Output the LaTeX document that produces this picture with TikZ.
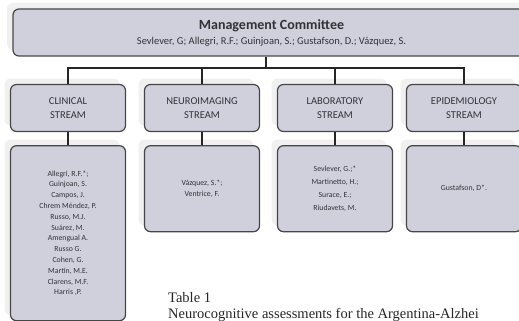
\documentclass[tikz,border=0pt]{standalone}
\usepackage{fontspec}
\setmainfont{Carlito}
\newfontfamily\capfont{Liberation Serif}
\usepackage{tikz}
\usetikzlibrary{positioning,shadows,calc}

\definecolor{boxfill}{RGB}{208,208,221}
\definecolor{boxline}{RGB}{70,70,72}
\definecolor{boxtext}{RGB}{50,50,54}

\begin{document}
\begin{tikzpicture}[x=1pt,y=-1pt,
    box/.style={draw=boxline, fill=boxfill, line width=1.2pt, rounded corners=6pt,
      align=center, text=boxtext, inner sep=2pt,
      drop shadow={shadow xshift=-6pt, shadow yshift=6pt, fill=black!6, opacity=1}},
    mgmt/.style={box, minimum width=517pt, minimum height=47pt},
    stream/.style={box, minimum width=115pt, minimum height=47pt, font=\fontsize{10.5}{14}\selectfont},
    members/.style={box, minimum width=115pt, anchor=north, font=\fontsize{7.8}{10.8}\selectfont},
    link/.style={draw=black!85, line width=1.6pt}]
  \path[use as bounding box, clip] (0,0) rectangle (519,321);

  % committee
  \node[mgmt] (mgmt) at (271.5,32.5)
    {{\fontsize{14}{18}\selectfont\bfseries Management Committee}\\[3pt]
     {\fontsize{10.5}{13}\selectfont Sevlever, G; Allegri, R.F.; Guinjoan, S.; Gustafson, D.; V\'azquez, S.}};

  % streams
  \node[stream] (clin) at (68,108)  {CLINICAL\\STREAM};
  \node[stream] (neuro) at (202,108) {NEUROIMAGING\\STREAM};
  \node[stream] (lab) at (335,108)   {LABORATORY\\STREAM};
  \node[stream] (epi) at (464,108)   {EPIDEMIOLOGY\\STREAM};

  % members
  \node[members, below=13pt of clin, minimum height=175pt] (clinM)
    {Allegri, R.F.*;\\Guinjoan, S.\\Campos, J.\\Chrem M\'endez, P.\\Russo, M.J.\\Su\'arez, M.\\Amengual A.\\Russo G.\\Cohen, G.\\Mart\'in, M.E.\\Clarens, M.F.\\Harris ,P.};
  \node[members, below=13pt of neuro, minimum height=86pt] (neuroM)
    {V\'azquez, S.*;\\Ventrice, F.};
  \node[members, below=13pt of lab, minimum height=86pt, font=\fontsize{7.8}{13}\selectfont] (labM)
    {Sevlever, G.;*\\Martinetto, H.;\\Surace, E.;\\Riudavets, M.};
  \node[members, below=13pt of epi, minimum height=86pt] (epiM)
    {Gustafson, D*.};

  % connectors
  \coordinate (bus) at ($(clin.north)!0.5!(epi.north)+(0,-16)$);
  \draw[link] (mgmt.south -| bus) -- (bus);
  \draw[link] (clin.north) |- (bus) -| (epi.north);
  \draw[link] (neuro.north) -- (neuro.north |- bus);
  \draw[link] (lab.north) -- (lab.north |- bus);
  \draw[link] (clin) -- (clinM);
  \draw[link] (neuro) -- (neuroM);
  \draw[link] (lab) -- (labM);
  \draw[link] (epi) -- (epiM);

  % caption
  \node[anchor=base west, inner sep=0pt, font=\capfont\fontsize{14.5}{17}\selectfont, text=black!85] (tab) at (168,302) {Table 1};
  \node[anchor=base west, inner sep=0pt, font=\capfont\fontsize{14.5}{17}\selectfont, text=black!85] (cap) at (168,318) {Neurocognitive assessments for the Argentina-Alzhei};
\end{tikzpicture}
\end{document}
